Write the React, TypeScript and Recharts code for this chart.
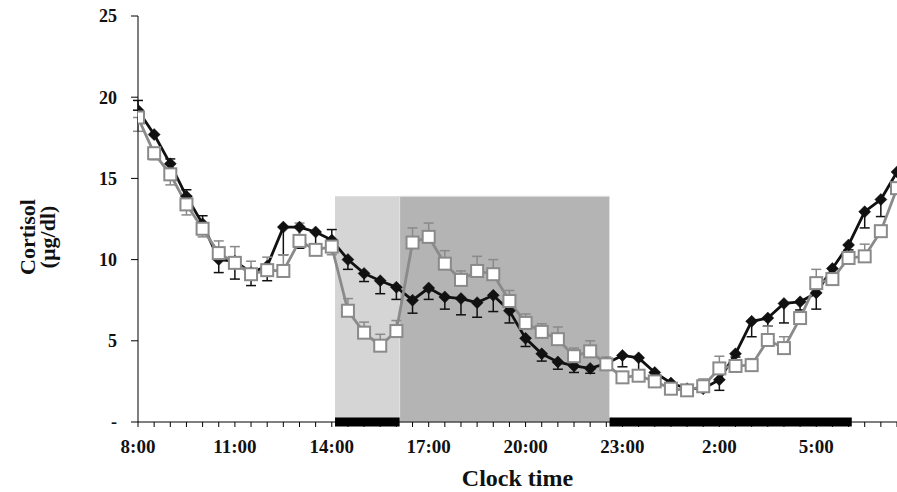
import React from "react";
import {
  ErrorBar,
  Label,
  Line,
  LineChart,
  ReferenceArea,
  ReferenceLine,
  XAxis,
  YAxis,
} from "recharts";

// half-hourly samples, 8:00 through 7:30 next morning
const clockTimes = [
  "8:00", "8:30", "9:00", "9:30", "10:00", "10:30", "11:00", "11:30",
  "12:00", "12:30", "13:00", "13:30", "14:00", "14:30", "15:00", "15:30",
  "16:00", "16:30", "17:00", "17:30", "18:00", "18:30", "19:00", "19:30",
  "20:00", "20:30", "21:00", "21:30", "22:00", "22:30", "23:00", "23:30",
  "0:00", "0:30", "1:00", "1:30", "2:00", "2:30", "3:00", "3:30",
  "4:00", "4:30", "5:00", "5:30", "6:00", "6:30", "7:00", "7:30",
];

// filled diamonds (black)
const blackValues = [
  19.2, 17.7, 15.9, 13.9, 12.2, 10.0, 9.9, 9.2,
  9.6, 12.0, 12.0, 11.7, 11.2, 10.0, 9.15, 8.7,
  8.3, 7.5, 8.25, 7.7, 7.6, 7.35, 7.8, 6.85,
  5.15, 4.2, 3.7, 3.45, 3.3, 3.6, 4.1, 3.95,
  3.05, 2.4, 2.05, 2.05, 2.6, 4.2, 6.2, 6.4,
  7.3, 7.4, 7.95, 9.45, 10.9, 12.95, 13.7, 15.4,
];
const blackErrLow = [
  0, 0, 0, 0, 0, 0.8, 1.1, 0.8,
  0.9, 1.7, 1.3, 0.8, 0, 0.6, 0.5, 0.8,
  0.75, 0.8, 0.7, 0.75, 1.0, 0.9, 1.0, 0.75,
  0.5, 0.45, 0.45, 0.4, 0.3, 0.3, 0.7, 0.75,
  0.2, 0.2, 0.1, 0.1, 0.65, 0.2, 0.95, 0.5,
  1.2, 0.5, 1.0, 0.3, 0.3, 1.0, 1.05, 0,
];
const blackErrHigh = [
  0.6, 0, 0.3, 0.4, 0.5, 0, 0, 0,
  0, 0, 0, 0, 0.65, 0, 0, 0,
  0, 0, 0, 0, 0, 0, 0, 0,
  0, 0, 0, 0, 0, 0, 0, 0,
  0, 0, 0, 0, 0, 0, 0, 0,
  0, 0, 0, 0, 0, 0, 0, 0,
];

// open squares (grey)
const greyValues = [
  18.75, 16.55, 15.25, 13.4, 11.9, 10.4, 9.8, 9.1,
  9.35, 9.3, 11.15, 10.6, 10.8, 6.85, 5.5, 4.7,
  5.6, 11.05, 11.4, 9.75, 8.75, 9.3, 9.1, 7.45,
  6.1, 5.55, 5.1, 4.05, 4.35, 3.55, 2.75, 2.85,
  2.5, 2.05, 1.95, 2.2, 3.3, 3.45, 3.5, 5.05,
  4.55, 6.4, 8.55, 8.8, 10.1, 10.2, 11.75, 14.4,
];
const greyErrLow = [
  0.85, 0.4, 0.65, 0.65, 0.5, 0, 0, 0,
  0, 0, 0, 0, 0.5, 0, 0, 0,
  0, 0, 0, 0, 0, 0, 0, 0,
  0, 0, 0, 0, 0, 0, 0, 0,
  0, 0, 0, 0, 0, 0, 0, 0,
  0, 0, 0, 0, 0, 0, 0, 0,
];
const greyErrHigh = [
  0, 0, 0, 0, 0, 0.75, 1.0, 0.8,
  0.8, 1.0, 1.1, 0.3, 0, 0.75, 0.65, 0.7,
  0.65, 0.9, 0.85, 0.8, 0.55, 0.9, 0.9, 0.65,
  0.55, 0.5, 0.75, 0.5, 0.65, 0.45, 0.2, 0.2,
  0.2, 0.2, 0.2, 0.45, 0.75, 0.3, 0.4, 0.85,
  0.7, 0.3, 0.85, 0.3, 0.3, 0.75, 0.3, 0.3,
];

const yTicks = [0, 5, 10, 15, 20, 25];
const labelEvery = 3; // hours between clock labels

const FONT = '"Liberation Serif", "Times New Roman", serif';
const GREY = "#8a8a8a";

// hours elapsed since the first sample, from the clock label
function hoursFromStart(label: string, start: string) {
  const toH = (s: string) => {
    const [h, m] = s.split(":").map(Number);
    return h + m / 60;
  };
  let d = toH(label) - toH(start);
  if (d < 0) d += 24;
  return d;
}

const data = clockTimes.map((t, i) => ({
  time: t,
  hour: hoursFromStart(t, clockTimes[0]),
  black: blackValues[i],
  blackErr: [blackErrLow[i], blackErrHigh[i]],
  grey: greyValues[i],
  greyErr: [greyErrLow[i], greyErrHigh[i]],
}));

const xTicks = data.map((d) => d.hour);
const labelByHour = new Map(data.map((d) => [d.hour, d.time]));

function Diamond(props: any) {
  const { cx, cy } = props;
  if (cx == null || cy == null) return null;
  return (
    <polygon
      points={`${cx},${cy - 6} ${cx + 6},${cy} ${cx},${cy + 6} ${cx - 6},${cy}`}
      fill="#111"
      stroke="#111"
      strokeWidth={0.5}
    />
  );
}

function Square(props: any) {
  const { cx, cy } = props;
  if (cx == null || cy == null) return null;
  return (
    <rect
      x={cx - 6}
      y={cy - 6}
      width={12}
      height={12}
      fill="#fff"
      stroke={GREY}
      strokeWidth={2}
    />
  );
}

export default function App() {
  return (
    <div style={{ position: "absolute", left: 0, top: 0, background: "#fff" }}>
      <LineChart
        width={897}
        height={492}
        data={data}
        margin={{ top: 16, right: 0, left: 0, bottom: 0 }}
      >
        <ReferenceArea
          x1={6.1}
          x2={8.1}
          y1={0}
          y2={13.9}
          fill="#d5d5d5"
          fillOpacity={1}
          stroke="none"
        />
        <ReferenceArea
          x1={8.1}
          x2={14.6}
          y1={0}
          y2={13.9}
          fill="#b4b4b4"
          fillOpacity={1}
          stroke="#e2e2e2"
          strokeWidth={1}
        />
        <XAxis
          type="number"
          dataKey="hour"
          domain={[0, 23.5]}
          ticks={xTicks}
          interval={0}
          allowDataOverflow
          height={70}
          tickSize={5}
          tickMargin={13}
          axisLine={{ stroke: "#000" }}
          tickLine={{ stroke: "#000" }}
          tick={{ fontSize: 19, fontWeight: 700, fill: "#111", fontFamily: FONT }}
          tickFormatter={(v: number) =>
            v % labelEvery === 0 ? labelByHour.get(v) ?? "" : ""
          }
        >
          <Label
            content={({ viewBox }: any) => (
              <text
                x={viewBox.x + viewBox.width / 2}
                y={viewBox.y + 64}
                textAnchor="middle"
                fontSize={24}
                fontWeight={700}
                fontFamily={FONT}
                fill="#111"
              >
                Clock time
              </text>
            )}
          />
        </XAxis>
        <YAxis
          type="number"
          domain={[0, 25]}
          ticks={yTicks}
          width={138}
          tickSize={7}
          tickMargin={14}
          axisLine={{ stroke: "#000" }}
          tickLine={{ stroke: "#000" }}
          tick={{ fontSize: 18, fontWeight: 700, fill: "#111", fontFamily: FONT }}
          tickFormatter={(v: number) => (v === 0 ? "-" : String(v))}
        >
          <Label
            content={({ viewBox }: any) => {
              const cy = viewBox.y + viewBox.height / 2 + 18;
              return (
                <g fontSize={22} fontWeight={700} fontFamily={FONT} fill="#111">
                  <text transform={`translate(35,${cy}) rotate(-90)`} textAnchor="middle">
                    Cortisol
                  </text>
                  <text transform={`translate(55,${cy}) rotate(-90)`} textAnchor="middle">
                    (µg/dl)
                  </text>
                </g>
              );
            }}
          />
        </YAxis>
        <ReferenceLine
          segment={[
            { x: 6.1, y: 0 },
            { x: 8.1, y: 0 },
          ]}
          stroke="#000"
          strokeWidth={9}
          ifOverflow="visible"
        />
        <ReferenceLine
          segment={[
            { x: 14.6, y: 0 },
            { x: 22.1, y: 0 },
          ]}
          stroke="#000"
          strokeWidth={9}
          ifOverflow="visible"
        />
        <Line
          type="linear"
          dataKey="black"
          stroke="#111"
          strokeWidth={2.8}
          dot={<Diamond />}
          activeDot={false}
          isAnimationActive={false}
        >
          <ErrorBar dataKey="blackErr" width={5} stroke="#111" strokeWidth={1.5} />
        </Line>
        <Line
          type="linear"
          dataKey="grey"
          stroke={GREY}
          strokeWidth={2.8}
          dot={<Square />}
          activeDot={false}
          isAnimationActive={false}
        >
          <ErrorBar dataKey="greyErr" width={5} stroke={GREY} strokeWidth={1.5} />
        </Line>
      </LineChart>
    </div>
  );
}
